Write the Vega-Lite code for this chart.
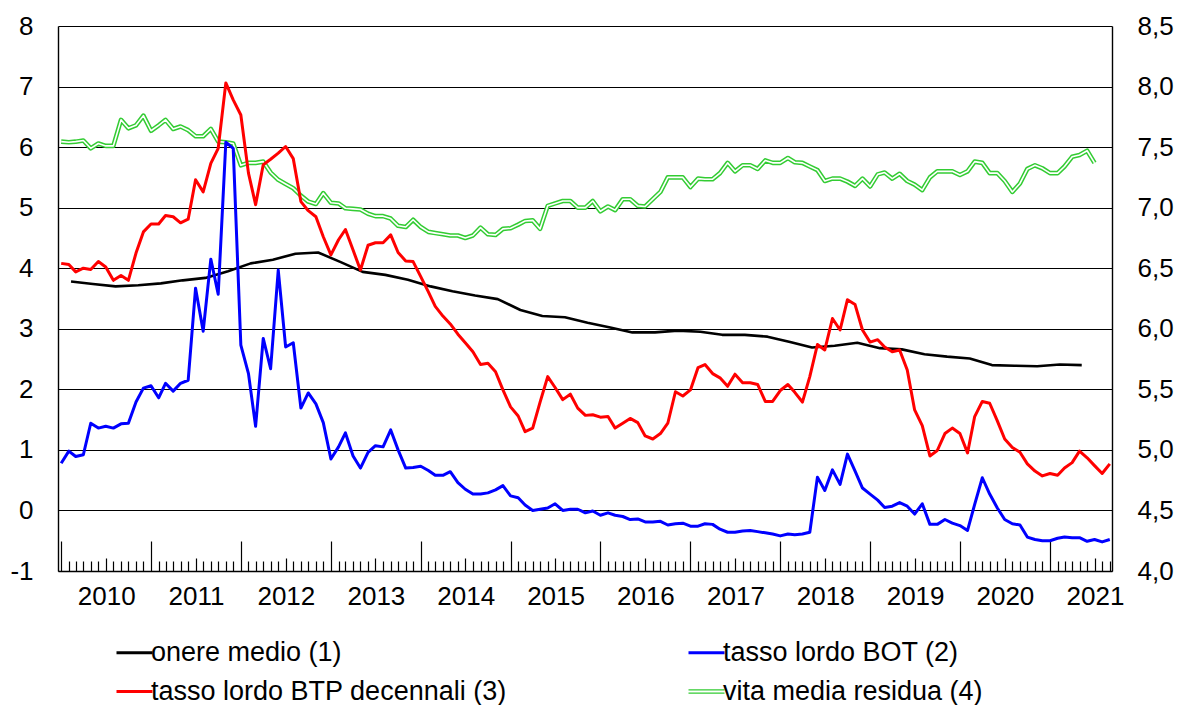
{
  "$schema": "https://vega.github.io/schema/vega-lite/v6.json",
  "width": 1054,
  "height": 545,
  "autosize": {"type": "none"},
  "padding": {"left": 58, "top": 26, "right": 66, "bottom": 134},
  "background": "white",
  "config": {
    "view": {"stroke": null},
    "font": "Liberation Sans",
    "axis": {"labelFont": "Liberation Sans", "labelFontSize": 26, "labelColor": "#000000", "domainColor": "#000000", "tickColor": "#000000", "title": null}
  },
  "datasets": {
    "onere": [
      {"d":"2010-02-10","v":3.78},{"d":"2010-05-10","v":3.74},{"d":"2010-08-10","v":3.70},{"d":"2010-11-10","v":3.72},
      {"d":"2011-02-10","v":3.75},{"d":"2011-05-10","v":3.80},{"d":"2011-08-10","v":3.84},{"d":"2011-11-10","v":3.95},
      {"d":"2012-02-10","v":4.08},{"d":"2012-05-10","v":4.14},{"d":"2012-08-10","v":4.24},{"d":"2012-11-10","v":4.26},
      {"d":"2013-02-10","v":4.10},{"d":"2013-05-10","v":3.94},{"d":"2013-08-10","v":3.89},{"d":"2013-11-10","v":3.81},
      {"d":"2014-02-10","v":3.70},{"d":"2014-05-10","v":3.62},{"d":"2014-08-10","v":3.55},{"d":"2014-11-10","v":3.49},
      {"d":"2015-02-10","v":3.31},{"d":"2015-05-10","v":3.21},{"d":"2015-08-10","v":3.19},{"d":"2015-11-10","v":3.10},
      {"d":"2016-02-10","v":3.02},{"d":"2016-05-10","v":2.94},{"d":"2016-08-10","v":2.94},{"d":"2016-11-10","v":2.97},
      {"d":"2017-02-10","v":2.95},{"d":"2017-05-10","v":2.90},{"d":"2017-08-10","v":2.90},{"d":"2017-11-10","v":2.87},
      {"d":"2018-02-10","v":2.78},{"d":"2018-05-10","v":2.69},{"d":"2018-08-10","v":2.72},{"d":"2018-11-10","v":2.77},
      {"d":"2019-02-10","v":2.68},{"d":"2019-05-10","v":2.66},{"d":"2019-08-10","v":2.58},{"d":"2019-11-10","v":2.54},
      {"d":"2020-02-10","v":2.51},{"d":"2020-05-10","v":2.40},{"d":"2020-08-10","v":2.39},{"d":"2020-11-10","v":2.38},
      {"d":"2021-02-10","v":2.41},{"d":"2021-05-10","v":2.40}
    ],
    "bot": [
      {"d":"2010-01-01","v":0.78},{"d":"2010-02-01","v":0.98},{"d":"2010-03-01","v":0.89},{"d":"2010-04-01","v":0.92},{"d":"2010-05-01","v":1.44},{"d":"2010-06-01","v":1.36},{"d":"2010-07-01","v":1.39},{"d":"2010-08-01","v":1.36},{"d":"2010-09-01","v":1.43},{"d":"2010-10-01","v":1.44},{"d":"2010-11-01","v":1.79},{"d":"2010-12-01","v":2.02},
      {"d":"2011-01-01","v":2.06},{"d":"2011-02-01","v":1.86},{"d":"2011-03-01","v":2.10},{"d":"2011-04-01","v":1.97},{"d":"2011-05-01","v":2.10},{"d":"2011-06-01","v":2.15},{"d":"2011-07-01","v":3.67},{"d":"2011-08-01","v":2.96},{"d":"2011-09-01","v":4.15},{"d":"2011-10-01","v":3.57},{"d":"2011-11-01","v":6.08},{"d":"2011-12-01","v":5.98},
      {"d":"2012-01-01","v":2.73},{"d":"2012-02-01","v":2.26},{"d":"2012-03-01","v":1.39},{"d":"2012-04-01","v":2.84},{"d":"2012-05-01","v":2.34},{"d":"2012-06-01","v":3.97},{"d":"2012-07-01","v":2.70},{"d":"2012-08-01","v":2.77},{"d":"2012-09-01","v":1.69},{"d":"2012-10-01","v":1.94},{"d":"2012-11-01","v":1.76},{"d":"2012-12-01","v":1.45},
      {"d":"2013-01-01","v":0.85},{"d":"2013-02-01","v":1.05},{"d":"2013-03-01","v":1.28},{"d":"2013-04-01","v":0.90},{"d":"2013-05-01","v":0.70},{"d":"2013-06-01","v":0.96},{"d":"2013-07-01","v":1.07},{"d":"2013-08-01","v":1.05},{"d":"2013-09-01","v":1.33},{"d":"2013-10-01","v":1.00},{"d":"2013-11-01","v":0.70},{"d":"2013-12-01","v":0.71},
      {"d":"2014-01-01","v":0.73},{"d":"2014-02-01","v":0.66},{"d":"2014-03-01","v":0.58},{"d":"2014-04-01","v":0.58},{"d":"2014-05-01","v":0.64},{"d":"2014-06-01","v":0.46},{"d":"2014-07-01","v":0.35},{"d":"2014-08-01","v":0.27},{"d":"2014-09-01","v":0.27},{"d":"2014-10-01","v":0.29},{"d":"2014-11-01","v":0.34},{"d":"2014-12-01","v":0.41},
      {"d":"2015-01-01","v":0.24},{"d":"2015-02-01","v":0.21},{"d":"2015-03-01","v":0.09},{"d":"2015-04-01","v":0.00},{"d":"2015-05-01","v":0.02},{"d":"2015-06-01","v":0.04},{"d":"2015-07-01","v":0.11},{"d":"2015-08-01","v":0.00},{"d":"2015-09-01","v":0.02},{"d":"2015-10-01","v":0.02},{"d":"2015-11-01","v":-0.04},{"d":"2015-12-01","v":-0.01},
      {"d":"2016-01-01","v":-0.08},{"d":"2016-02-01","v":-0.04},{"d":"2016-03-01","v":-0.08},{"d":"2016-04-01","v":-0.10},{"d":"2016-05-01","v":-0.15},{"d":"2016-06-01","v":-0.14},{"d":"2016-07-01","v":-0.19},{"d":"2016-08-01","v":-0.19},{"d":"2016-09-01","v":-0.18},{"d":"2016-10-01","v":-0.24},{"d":"2016-11-01","v":-0.22},{"d":"2016-12-01","v":-0.21},
      {"d":"2017-01-01","v":-0.26},{"d":"2017-02-01","v":-0.26},{"d":"2017-03-01","v":-0.22},{"d":"2017-04-01","v":-0.23},{"d":"2017-05-01","v":-0.31},{"d":"2017-06-01","v":-0.36},{"d":"2017-07-01","v":-0.36},{"d":"2017-08-01","v":-0.34},{"d":"2017-09-01","v":-0.33},{"d":"2017-10-01","v":-0.35},{"d":"2017-11-01","v":-0.37},{"d":"2017-12-01","v":-0.39},
      {"d":"2018-01-01","v":-0.42},{"d":"2018-02-01","v":-0.39},{"d":"2018-03-01","v":-0.40},{"d":"2018-04-01","v":-0.39},{"d":"2018-05-01","v":-0.36},{"d":"2018-06-01","v":0.55},{"d":"2018-07-01","v":0.33},{"d":"2018-08-01","v":0.67},{"d":"2018-09-01","v":0.43},{"d":"2018-10-01","v":0.93},{"d":"2018-11-01","v":0.65},{"d":"2018-12-01","v":0.37},
      {"d":"2019-01-01","v":0.27},{"d":"2019-02-01","v":0.17},{"d":"2019-03-01","v":0.05},{"d":"2019-04-01","v":0.07},{"d":"2019-05-01","v":0.13},{"d":"2019-06-01","v":0.07},{"d":"2019-07-01","v":-0.06},{"d":"2019-08-01","v":0.11},{"d":"2019-09-01","v":-0.23},{"d":"2019-10-01","v":-0.23},{"d":"2019-11-01","v":-0.15},{"d":"2019-12-01","v":-0.21},
      {"d":"2020-01-01","v":-0.25},{"d":"2020-02-01","v":-0.33},{"d":"2020-03-01","v":0.10},{"d":"2020-04-01","v":0.54},{"d":"2020-05-01","v":0.27},{"d":"2020-06-01","v":0.04},{"d":"2020-07-01","v":-0.15},{"d":"2020-08-01","v":-0.22},{"d":"2020-09-01","v":-0.24},{"d":"2020-10-01","v":-0.44},{"d":"2020-11-01","v":-0.48},{"d":"2020-12-01","v":-0.50},
      {"d":"2021-01-01","v":-0.50},{"d":"2021-02-01","v":-0.46},{"d":"2021-03-01","v":-0.44},{"d":"2021-04-01","v":-0.45},{"d":"2021-05-01","v":-0.45},{"d":"2021-06-01","v":-0.51},{"d":"2021-07-01","v":-0.48},{"d":"2021-08-01","v":-0.52},{"d":"2021-09-01","v":-0.48}
    ],
    "btp": [
      {"d":"2010-01-01","v":4.08},{"d":"2010-02-01","v":4.06},{"d":"2010-03-01","v":3.94},{"d":"2010-04-01","v":4.00},{"d":"2010-05-01","v":3.98},{"d":"2010-06-01","v":4.11},{"d":"2010-07-01","v":4.02},{"d":"2010-08-01","v":3.80},{"d":"2010-09-01","v":3.88},{"d":"2010-10-01","v":3.80},{"d":"2010-11-01","v":4.25},{"d":"2010-12-01","v":4.60},
      {"d":"2011-01-01","v":4.73},{"d":"2011-02-01","v":4.73},{"d":"2011-03-01","v":4.87},{"d":"2011-04-01","v":4.85},{"d":"2011-05-01","v":4.75},{"d":"2011-06-01","v":4.81},{"d":"2011-07-01","v":5.46},{"d":"2011-08-01","v":5.26},{"d":"2011-09-01","v":5.73},{"d":"2011-10-01","v":5.98},{"d":"2011-11-01","v":7.06},{"d":"2011-12-01","v":6.78},
      {"d":"2012-01-01","v":6.53},{"d":"2012-02-01","v":5.57},{"d":"2012-03-01","v":5.05},{"d":"2012-04-01","v":5.71},{"d":"2012-05-01","v":5.80},{"d":"2012-06-01","v":5.90},{"d":"2012-07-01","v":6.01},{"d":"2012-08-01","v":5.81},{"d":"2012-09-01","v":5.10},{"d":"2012-10-01","v":4.95},{"d":"2012-11-01","v":4.85},{"d":"2012-12-01","v":4.52},
      {"d":"2013-01-01","v":4.22},{"d":"2013-02-01","v":4.47},{"d":"2013-03-01","v":4.64},{"d":"2013-04-01","v":4.30},{"d":"2013-05-01","v":3.97},{"d":"2013-06-01","v":4.38},{"d":"2013-07-01","v":4.42},{"d":"2013-08-01","v":4.42},{"d":"2013-09-01","v":4.55},{"d":"2013-10-01","v":4.26},{"d":"2013-11-01","v":4.12},{"d":"2013-12-01","v":4.11},
      {"d":"2014-01-01","v":3.86},{"d":"2014-02-01","v":3.61},{"d":"2014-03-01","v":3.37},{"d":"2014-04-01","v":3.21},{"d":"2014-05-01","v":3.08},{"d":"2014-06-01","v":2.91},{"d":"2014-07-01","v":2.77},{"d":"2014-08-01","v":2.62},{"d":"2014-09-01","v":2.41},{"d":"2014-10-01","v":2.43},{"d":"2014-11-01","v":2.29},{"d":"2014-12-01","v":1.99},
      {"d":"2015-01-01","v":1.71},{"d":"2015-02-01","v":1.56},{"d":"2015-03-01","v":1.30},{"d":"2015-04-01","v":1.36},{"d":"2015-05-01","v":1.79},{"d":"2015-06-01","v":2.21},{"d":"2015-07-01","v":2.03},{"d":"2015-08-01","v":1.83},{"d":"2015-09-01","v":1.92},{"d":"2015-10-01","v":1.69},{"d":"2015-11-01","v":1.57},{"d":"2015-12-01","v":1.58},
      {"d":"2016-01-01","v":1.54},{"d":"2016-02-01","v":1.55},{"d":"2016-03-01","v":1.36},{"d":"2016-04-01","v":1.44},{"d":"2016-05-01","v":1.52},{"d":"2016-06-01","v":1.45},{"d":"2016-07-01","v":1.23},{"d":"2016-08-01","v":1.18},{"d":"2016-09-01","v":1.27},{"d":"2016-10-01","v":1.44},{"d":"2016-11-01","v":1.96},{"d":"2016-12-01","v":1.89},
      {"d":"2017-01-01","v":1.99},{"d":"2017-02-01","v":2.36},{"d":"2017-03-01","v":2.41},{"d":"2017-04-01","v":2.26},{"d":"2017-05-01","v":2.19},{"d":"2017-06-01","v":2.05},{"d":"2017-07-01","v":2.25},{"d":"2017-08-01","v":2.11},{"d":"2017-09-01","v":2.11},{"d":"2017-10-01","v":2.08},{"d":"2017-11-01","v":1.80},{"d":"2017-12-01","v":1.80},
      {"d":"2018-01-01","v":1.98},{"d":"2018-02-01","v":2.08},{"d":"2018-03-01","v":1.95},{"d":"2018-04-01","v":1.79},{"d":"2018-05-01","v":2.21},{"d":"2018-06-01","v":2.74},{"d":"2018-07-01","v":2.65},{"d":"2018-08-01","v":3.17},{"d":"2018-09-01","v":2.98},{"d":"2018-10-01","v":3.48},{"d":"2018-11-01","v":3.40},{"d":"2018-12-01","v":2.98},
      {"d":"2019-01-01","v":2.78},{"d":"2019-02-01","v":2.82},{"d":"2019-03-01","v":2.70},{"d":"2019-04-01","v":2.62},{"d":"2019-05-01","v":2.65},{"d":"2019-06-01","v":2.32},{"d":"2019-07-01","v":1.66},{"d":"2019-08-01","v":1.40},{"d":"2019-09-01","v":0.90},{"d":"2019-10-01","v":0.99},{"d":"2019-11-01","v":1.27},{"d":"2019-12-01","v":1.36},
      {"d":"2020-01-01","v":1.27},{"d":"2020-02-01","v":0.95},{"d":"2020-03-01","v":1.55},{"d":"2020-04-01","v":1.80},{"d":"2020-05-01","v":1.77},{"d":"2020-06-01","v":1.48},{"d":"2020-07-01","v":1.18},{"d":"2020-08-01","v":1.04},{"d":"2020-09-01","v":0.96},{"d":"2020-10-01","v":0.77},{"d":"2020-11-01","v":0.65},{"d":"2020-12-01","v":0.57},
      {"d":"2021-01-01","v":0.61},{"d":"2021-02-01","v":0.58},{"d":"2021-03-01","v":0.70},{"d":"2021-04-01","v":0.79},{"d":"2021-05-01","v":0.98},{"d":"2021-06-01","v":0.87},{"d":"2021-07-01","v":0.74},{"d":"2021-08-01","v":0.61},{"d":"2021-09-01","v":0.77}
    ],
    "vita": [
      {"d":"2010-01-01","v":7.545},{"d":"2010-02-01","v":7.54},{"d":"2010-03-01","v":7.545},{"d":"2010-04-01","v":7.555},{"d":"2010-05-01","v":7.49},{"d":"2010-06-01","v":7.53},{"d":"2010-07-01","v":7.51},{"d":"2010-08-01","v":7.51},{"d":"2010-09-01","v":7.725},{"d":"2010-10-01","v":7.655},{"d":"2010-11-01","v":7.68},{"d":"2010-12-01","v":7.76},
      {"d":"2011-01-01","v":7.635},{"d":"2011-02-01","v":7.68},{"d":"2011-03-01","v":7.725},{"d":"2011-04-01","v":7.65},{"d":"2011-05-01","v":7.67},{"d":"2011-06-01","v":7.64},{"d":"2011-07-01","v":7.59},{"d":"2011-08-01","v":7.59},{"d":"2011-09-01","v":7.65},{"d":"2011-10-01","v":7.545},{"d":"2011-11-01","v":7.54},{"d":"2011-12-01","v":7.53},
      {"d":"2012-01-01","v":7.35},{"d":"2012-02-01","v":7.37},{"d":"2012-03-01","v":7.37},{"d":"2012-04-01","v":7.38},{"d":"2012-05-01","v":7.29},{"d":"2012-06-01","v":7.23},{"d":"2012-07-01","v":7.195},{"d":"2012-08-01","v":7.16},{"d":"2012-09-01","v":7.10},{"d":"2012-10-01","v":7.05},{"d":"2012-11-01","v":7.03},{"d":"2012-12-01","v":7.12},
      {"d":"2013-01-01","v":7.04},{"d":"2013-02-01","v":7.035},{"d":"2013-03-01","v":6.995},{"d":"2013-04-01","v":6.99},{"d":"2013-05-01","v":6.985},{"d":"2013-06-01","v":6.95},{"d":"2013-07-01","v":6.93},{"d":"2013-08-01","v":6.93},{"d":"2013-09-01","v":6.91},{"d":"2013-10-01","v":6.85},{"d":"2013-11-01","v":6.84},{"d":"2013-12-01","v":6.90},
      {"d":"2014-01-01","v":6.84},{"d":"2014-02-01","v":6.80},{"d":"2014-03-01","v":6.79},{"d":"2014-04-01","v":6.78},{"d":"2014-05-01","v":6.77},{"d":"2014-06-01","v":6.77},{"d":"2014-07-01","v":6.75},{"d":"2014-08-01","v":6.77},{"d":"2014-09-01","v":6.835},{"d":"2014-10-01","v":6.78},{"d":"2014-11-01","v":6.775},{"d":"2014-12-01","v":6.825},
      {"d":"2015-01-01","v":6.83},{"d":"2015-02-01","v":6.86},{"d":"2015-03-01","v":6.89},{"d":"2015-04-01","v":6.895},{"d":"2015-05-01","v":6.825},{"d":"2015-06-01","v":7.015},{"d":"2015-07-01","v":7.035},{"d":"2015-08-01","v":7.055},{"d":"2015-09-01","v":7.055},{"d":"2015-10-01","v":7.00},{"d":"2015-11-01","v":7.00},{"d":"2015-12-01","v":7.055},
      {"d":"2016-01-01","v":6.97},{"d":"2016-02-01","v":7.01},{"d":"2016-03-01","v":6.98},{"d":"2016-04-01","v":7.07},{"d":"2016-05-01","v":7.07},{"d":"2016-06-01","v":7.015},{"d":"2016-07-01","v":7.01},{"d":"2016-08-01","v":7.07},{"d":"2016-09-01","v":7.13},{"d":"2016-10-01","v":7.25},{"d":"2016-11-01","v":7.25},{"d":"2016-12-01","v":7.25},
      {"d":"2017-01-01","v":7.17},{"d":"2017-02-01","v":7.24},{"d":"2017-03-01","v":7.235},{"d":"2017-04-01","v":7.235},{"d":"2017-05-01","v":7.285},{"d":"2017-06-01","v":7.37},{"d":"2017-07-01","v":7.30},{"d":"2017-08-01","v":7.35},{"d":"2017-09-01","v":7.35},{"d":"2017-10-01","v":7.32},{"d":"2017-11-01","v":7.39},{"d":"2017-12-01","v":7.37},
      {"d":"2018-01-01","v":7.37},{"d":"2018-02-01","v":7.41},{"d":"2018-03-01","v":7.375},{"d":"2018-04-01","v":7.37},{"d":"2018-05-01","v":7.34},{"d":"2018-06-01","v":7.31},{"d":"2018-07-01","v":7.22},{"d":"2018-08-01","v":7.24},{"d":"2018-09-01","v":7.24},{"d":"2018-10-01","v":7.215},{"d":"2018-11-01","v":7.18},{"d":"2018-12-01","v":7.24},
      {"d":"2019-01-01","v":7.175},{"d":"2019-02-01","v":7.275},{"d":"2019-03-01","v":7.29},{"d":"2019-04-01","v":7.24},{"d":"2019-05-01","v":7.28},{"d":"2019-06-01","v":7.22},{"d":"2019-07-01","v":7.19},{"d":"2019-08-01","v":7.145},{"d":"2019-09-01","v":7.25},{"d":"2019-10-01","v":7.30},{"d":"2019-11-01","v":7.30},{"d":"2019-12-01","v":7.30},
      {"d":"2020-01-01","v":7.27},{"d":"2020-02-01","v":7.30},{"d":"2020-03-01","v":7.38},{"d":"2020-04-01","v":7.37},{"d":"2020-05-01","v":7.285},{"d":"2020-06-01","v":7.285},{"d":"2020-07-01","v":7.22},{"d":"2020-08-01","v":7.13},{"d":"2020-09-01","v":7.20},{"d":"2020-10-01","v":7.32},{"d":"2020-11-01","v":7.35},{"d":"2020-12-01","v":7.325},
      {"d":"2021-01-01","v":7.285},{"d":"2021-02-01","v":7.285},{"d":"2021-03-01","v":7.34},{"d":"2021-04-01","v":7.42},{"d":"2021-05-01","v":7.435},{"d":"2021-06-01","v":7.47},{"d":"2021-07-01","v":7.37}
    ]
  },
  "layer": [
    {
      "layer": [
        {
          "data": {"name": "vita"},
          "mark": {"type": "line", "strokeWidth": 4.6, "strokeJoin": "round"},
          "encoding": {
            "x": {"field": "d", "type": "temporal",
                  "scale": {"type": "utc", "domain": [{"year": 2009, "month": 12, "date": 19, "utc": true}, {"year": 2021, "month": 9, "date": 10, "utc": true}]},
                  "axis": {"orient": "bottom", "ticks": false, "tickSize": 0, "domain": false, "grid": false, "tickCount": {"interval": "year", "step": 1}, "format": "%Y", "labelOffset": 45, "labelPadding": 12, "labelFlush": false, "labelOverlap": false, "labelBound": false, "labelAlign": "center", "labelBaseline": "top"}},
            "y": {"field": "v", "type": "quantitative",
                  "scale": {"domain": [4, 8.5], "nice": false, "zero": false},
                  "axis": {"orient": "right", "values": [4, 4.5, 5, 5.5, 6, 6.5, 7, 7.5, 8, 8.5], "labelExpr": "replace(format(datum.value, '.1f'), '.', ',')", "grid": false, "ticks": false, "tickSize": 0, "labelPadding": 25, "domain": true, "domainWidth": 1.4}},
            "color": {"datum": "vita media residua (4)", "type": "nominal",
                      "scale": {"domain": ["onere medio (1)", "tasso lordo BOT (2)", "tasso lordo BTP decennali (3)", "vita media residua (4)"], "range": ["#000000", "#0000ff", "#ff0000", "#33cc33"]},
                      "legend": {"orient": "none", "direction": "horizontal", "legendX": 63, "legendY": 613, "columns": 2, "columnPadding": 175, "rowPadding": 11, "padding": 0, "title": null,
                                 "labelFont": "Liberation Sans", "labelFontSize": 27, "labelColor": "#000000", "labelLimit": 700, "labelOffset": 3,
                                 "symbolType": "stroke", "symbolSize": 1296, "symbolStrokeWidth": 3,
                                 "encode": {"symbols": {"update": {
                                   "shape": {"signal": "datum.value === 'vita media residua (4)' ? 'M-1,-0.09H1M-1,0.09H1' : 'stroke'"},
                                   "strokeWidth": {"signal": "datum.value === 'vita media residua (4)' ? 1.4 : 3"}}}}}}
          }
        },
        {
          "data": {"name": "vita"},
          "mark": {"type": "line", "strokeWidth": 1.6, "strokeJoin": "round", "color": "#ffffff"},
          "encoding": {
            "x": {"field": "d", "type": "temporal"},
            "y": {"field": "v", "type": "quantitative"}
          }
        }
      ]
    },
    {
      "layer": [
        {
          "data": {"name": "onere"},
          "mark": {"type": "line", "strokeWidth": 2.6, "strokeJoin": "round"},
          "encoding": {
            "x": {"field": "d", "type": "temporal",
                  "scale": {"type": "utc", "domain": [{"year": 2009, "month": 12, "date": 19, "utc": true}, {"year": 2021, "month": 9, "date": 10, "utc": true}]},
                  "axis": {"orient": "bottom", "labels": false, "grid": false, "domain": true, "domainWidth": 1.4, "ticks": true, "tickCount": {"interval": "month", "step": 1},
                           "tickSize": {"condition": [{"test": "utcmonth(datum.value) === 0", "value": -30}, {"test": "utcmonth(datum.value) === 6", "value": -13}], "value": -10},
                           "tickWidth": 1.2}},
            "y": {"field": "v", "type": "quantitative",
                  "scale": {"domain": [-1, 8], "nice": false, "zero": false},
                  "axis": {"orient": "left", "values": [-1, 0, 1, 2, 3, 4, 5, 6, 7, 8], "labelExpr": "'' + datum.value", "grid": true, "gridColor": "#000000", "gridWidth": 1.2, "ticks": false, "tickSize": 0, "labelPadding": 25, "domain": true, "domainWidth": 1.4}},
            "color": {"datum": "onere medio (1)", "type": "nominal"}
          }
        },
        {
          "data": {"name": "bot"},
          "mark": {"type": "line", "strokeWidth": 3, "strokeJoin": "round"},
          "encoding": {
            "x": {"field": "d", "type": "temporal"},
            "y": {"field": "v", "type": "quantitative"},
            "color": {"datum": "tasso lordo BOT (2)", "type": "nominal"}
          }
        },
        {
          "data": {"name": "btp"},
          "mark": {"type": "line", "strokeWidth": 3, "strokeJoin": "round"},
          "encoding": {
            "x": {"field": "d", "type": "temporal"},
            "y": {"field": "v", "type": "quantitative"},
            "color": {"datum": "tasso lordo BTP decennali (3)", "type": "nominal"}
          }
        }
      ]
    }
  ],
  "resolve": {"scale": {"y": "independent"}, "axis": {"x": "independent", "y": "independent"}}
}
